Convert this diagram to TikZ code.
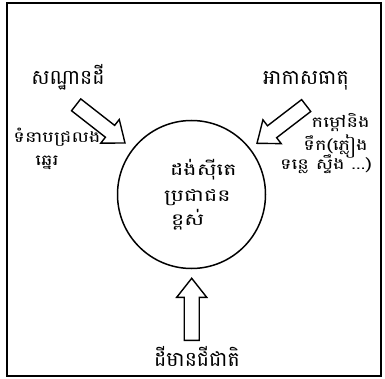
\documentclass[tikz,border=0pt]{standalone}
\usepackage{fontspec}
\usepackage{graphicx}
\newfontfamily\khmer[Script=Khmer]{Battambang}
\newcommand{\widetext}[2]{\scalebox{#1}[1]{#2}}
\tikzset{
  fatarrow/.pic={\draw[line width=1.4pt, line join=miter, fill=white]
     (0,0) -- (-19,15) -- (-19,7.5) -- (-62,7.5) -- (-62,-7.5) -- (-19,-7.5) -- (-19,-15) -- cycle;},
  bigtxt/.style={font=\khmer\fontsize{20.5}{24}\selectfont, inner sep=0pt, anchor=base},
  smalltxt/.style={font=\khmer\fontsize{15}{20}\selectfont, inner sep=0pt, anchor=base},
  circtxt/.style={font=\khmer\fontsize{16.5}{20}\selectfont, inner sep=0pt, anchor=base west},
}
\begin{document}
\begin{tikzpicture}[x=1pt,y=1pt]
\useasboundingbox (0,0) rectangle (385,378);
\draw[line width=1.2pt] (7,375) -- (7,2) -- (381,2) -- (381,375) -- cycle;
% circle
\node[draw, line width=1.5pt, circle, minimum size=148pt, inner sep=0pt] (c) at (191.5,183.5) {};
\node[circtxt] (c1) at (170,203) {\widetext{1.35}{ដង់ស៊ីតេ}};
\node[circtxt] (c2) at (164,177) {\widetext{1.35}{ប្រជាជន}};
\node[circtxt] (c3) at (171,153) {\widetext{1.35}{ខ្ពស់}};
% labels
\node[bigtxt] (t1) at (68,293) {សណ្ឋានដី};
\node[bigtxt] (t2) at (306,293) {អាកាសធាតុ};
\node[bigtxt] (t3) at (197,12) {ដីមានជីជាតិ};
\node[smalltxt] (l1) at (57,235) {\widetext{1.3}{ទំនាបជ្រលង}};
\node[smalltxt] (l2) at (47,213) {\widetext{1.3}{ឆ្នេរ}};
\node[smalltxt, anchor=base east] (r1) at (370,251) {\widetext{1.3}{កម្ដៅនិង}};
\node[smalltxt, anchor=base east] (r2) at (368,228) {\widetext{1.3}{ទឹក(ភ្លៀង}};
\node[smalltxt, anchor=base east] (r3) at (372,208) {\widetext{1.3}{ទន្លេ ស្ទឹង ...)}};
% arrows
\pic (a1) [rotate=-38] at (125,235) {fatarrow};
\pic (a2) [rotate=-142.5] at (257,234.7) {fatarrow};
\pic (a3) [rotate=90] at (191.7,99.7) {fatarrow};
\end{tikzpicture}
\end{document}
